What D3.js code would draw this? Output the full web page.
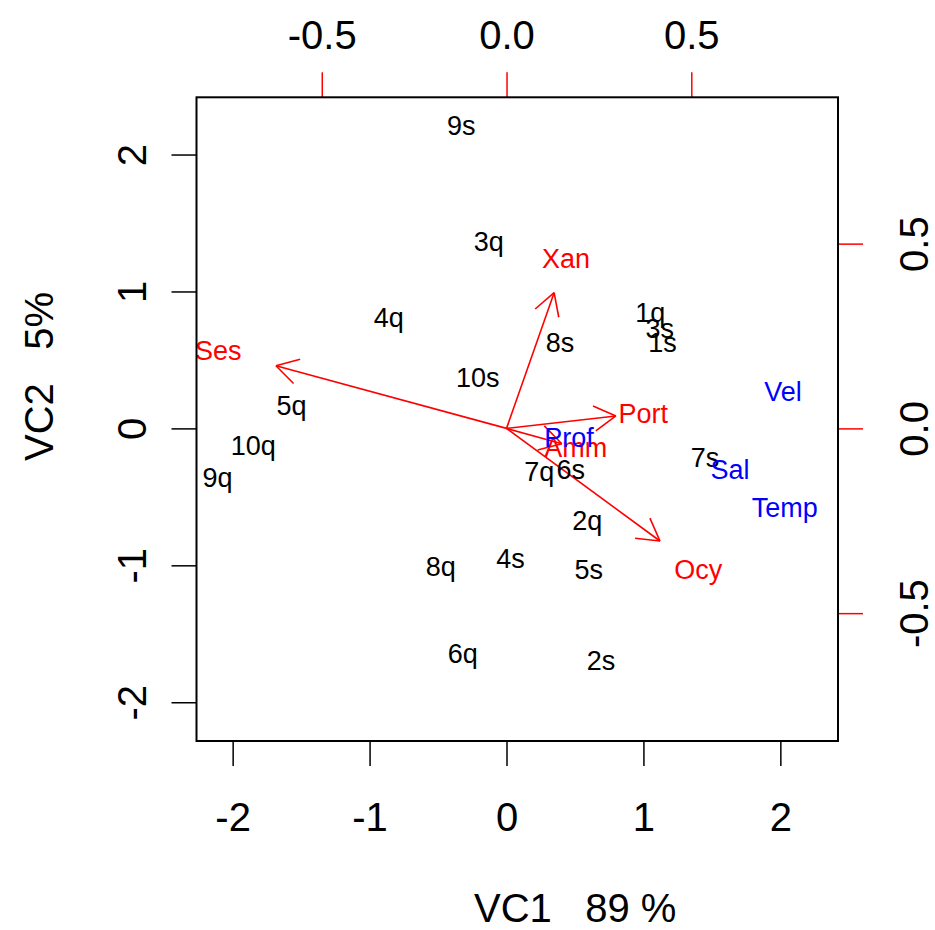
<!DOCTYPE html>
<html>
<head>
<meta charset="utf-8">
<script src="https://cdn.jsdelivr.net/npm/d3@7"></script>
<style>
  body { margin: 0; background: #fff; }
  text { font-family: "Liberation Sans", Arial, sans-serif; white-space: pre; }
</style>
</head>
<body>
<div id="biplot"></div>
<script>
// site scores (VC1, VC2)
const sites = ["9s","3q","4q","8s","1q","3s","1s","10s","5q","10q","9q","7q","6s","7s","2q","4s","8q","5s","6q","2s"];
const siteVC1 = [-0.33,-0.13,-0.86,0.39,1.05,1.12,1.14,-0.21,-1.57,-1.85,-2.11,0.24,0.47,1.45,0.59,0.03,-0.48,0.60,-0.32,0.69];
const siteVC2 = [2.21,1.37,0.81,0.63,0.85,0.73,0.63,0.37,0.17,-0.12,-0.36,-0.31,-0.30,-0.21,-0.67,-0.95,-1.01,-1.03,-1.64,-1.69];

// variable loadings (red, with arrows)
const vars = ["Xan","Ses","Port","Ocy","Amm"];
const varVC1 = [0.161,-0.780,0.370,0.519,0.187];
const varVC2 = [0.459,0.212,0.042,-0.381,-0.052];

// environmental labels (blue, no arrows)
const env = ["Vel","Sal","Temp","Prof"];
const envVC1 = [0.748,0.605,0.753,0.169];
const envVC2 = [0.101,-0.111,-0.213,-0.025];

const mainTicks = [-2,-1,0,1,2];
const mainTickLabels = ["-2","-1","0","1","2"];
const secTicks = [-0.5,0,0.5];
const secTickLabels = ["-0.5","0.0","0.5"];

const xLabel = "VC1   89 %";
const yLabel = "VC2   5%";

var margin = {top: 97.3, right: 97, bottom: 189, left: 196.5},
    width = 935 - margin.left - margin.right,
    height = 930 - margin.top - margin.bottom;

var svg = d3.select("#biplot")
  .append("svg")
    .attr("width", 935)
    .attr("height", 930)
  .append("g")
    .attr("transform", "translate(" + margin.left + "," + margin.top + ")");

var x = d3.scaleLinear().domain([-2.264, 2.421]).range([0, width]);
var y = d3.scaleLinear().domain([-2.283, 2.418]).range([height, 0]);
var x2 = d3.scaleLinear().domain([-0.839, 0.897]).range([0, width]);
var y2 = d3.scaleLinear().domain([-0.846, 0.896]).range([height, 0]);

const fs = 40;
const labelFs = "27px";

// bottom axis
var xAxisG = svg.append("g")
  .attr("transform", "translate(0," + height + ")")
  .call(d3.axisBottom(x).tickValues(mainTicks).tickSize(25).tickSizeOuter(0).tickPadding(37)
    .tickFormat((d, i) => mainTickLabels[i]));

// left axis (labels parallel to axis)
var yAxisG = svg.append("g")
  .call(d3.axisLeft(y).tickValues(mainTicks).tickSize(25).tickSizeOuter(0)
    .tickFormat((d, i) => mainTickLabels[i]));
yAxisG.selectAll(".tick text")
  .attr("transform", "rotate(-90)")
  .attr("x", 0).attr("y", -50.5).attr("dy", 0)
  .attr("text-anchor", "middle");

// top axis (loadings)
var topAxisG = svg.append("g")
  .call(d3.axisTop(x2).tickValues(secTicks).tickSize(25).tickSizeOuter(0).tickPadding(23)
    .tickFormat((d, i) => secTickLabels[i]));

// right axis (loadings)
var rightAxisG = svg.append("g")
  .attr("transform", "translate(" + width + ",0)")
  .call(d3.axisRight(y2).tickValues(secTicks).tickSize(25).tickSizeOuter(0)
    .tickFormat((d, i) => secTickLabels[i]));
rightAxisG.selectAll(".tick text")
  .attr("transform", "rotate(-90)")
  .attr("x", 0).attr("y", 90).attr("dy", 0)
  .attr("text-anchor", "middle");

[xAxisG, yAxisG, topAxisG, rightAxisG].forEach(g => {
  g.select(".domain").remove();
  g.selectAll(".tick text").attr("fill", "#000").style("font-size", fs + "px")
    .style("font-family", "'Liberation Sans', Arial, sans-serif");
  g.selectAll(".tick line").attr("stroke-width", 1.5);
});
[topAxisG, rightAxisG].forEach(g => g.selectAll(".tick line").attr("stroke", "#ff0000"));

// arrows (R biplot draws them to 0.8 * loading)
var arrowG = svg.append("g");
const barb = 25, ang = Math.PI / 6;
vars.forEach(function(v, i) {
  var x0 = x2(0), y0 = y2(0);
  var x1 = x2(varVC1[i] * 0.8), y1 = y2(varVC2[i] * 0.8);
  arrowG.append("line")
    .attr("x1", x0).attr("y1", y0).attr("x2", x1).attr("y2", y1)
    .attr("stroke", "#ff0000").attr("stroke-width", 1.6);
  var th = Math.atan2(y0 - y1, x0 - x1);
  [ang, -ang].forEach(function(a) {
    arrowG.append("line")
      .attr("x1", x1).attr("y1", y1)
      .attr("x2", x1 + barb * Math.cos(th + a))
      .attr("y2", y1 + barb * Math.sin(th + a))
      .attr("stroke", "#ff0000").attr("stroke-width", 1.6);
  });
});

// site labels
svg.append("g")
  .selectAll("text")
  .data(sites)
  .enter()
  .append("text")
    .attr("x", (d, i) => x(siteVC1[i]))
    .attr("y", (d, i) => y(siteVC2[i]))
    .attr("dy", "0.36em")
    .attr("text-anchor", "middle")
    .style("font-size", labelFs)
    .attr("fill", "#000")
    .text(d => d);

// variable labels
svg.append("g")
  .selectAll("text")
  .data(vars)
  .enter()
  .append("text")
    .attr("x", (d, i) => x2(varVC1[i]))
    .attr("y", (d, i) => y2(varVC2[i]))
    .attr("dy", "0.36em")
    .attr("text-anchor", "middle")
    .style("font-size", labelFs)
    .attr("fill", "#ff0000")
    .text(d => d);

svg.append("g")
  .selectAll("text")
  .data(env)
  .enter()
  .append("text")
    .attr("x", (d, i) => x2(envVC1[i]))
    .attr("y", (d, i) => y2(envVC2[i]))
    .attr("dy", "0.36em")
    .attr("text-anchor", "middle")
    .style("font-size", labelFs)
    .attr("fill", "#0000ff")
    .text(d => d);

// box
svg.append("rect")
  .attr("x", 0).attr("y", 0)
  .attr("width", width).attr("height", height)
  .attr("fill", "none").attr("stroke", "#000").attr("stroke-width", 2);

// axis titles
svg.append("text")
  .attr("x", 474 - margin.left)
  .attr("y", 922 - margin.top)
  .style("font-size", fs + "px")
  .text(xLabel);

svg.append("text")
  .attr("transform", "translate(" + (53 - margin.left) + "," + (461 - margin.top) + ") rotate(-90)")
  .style("font-size", fs + "px")
  .text(yLabel);
</script>
</body>
</html>
